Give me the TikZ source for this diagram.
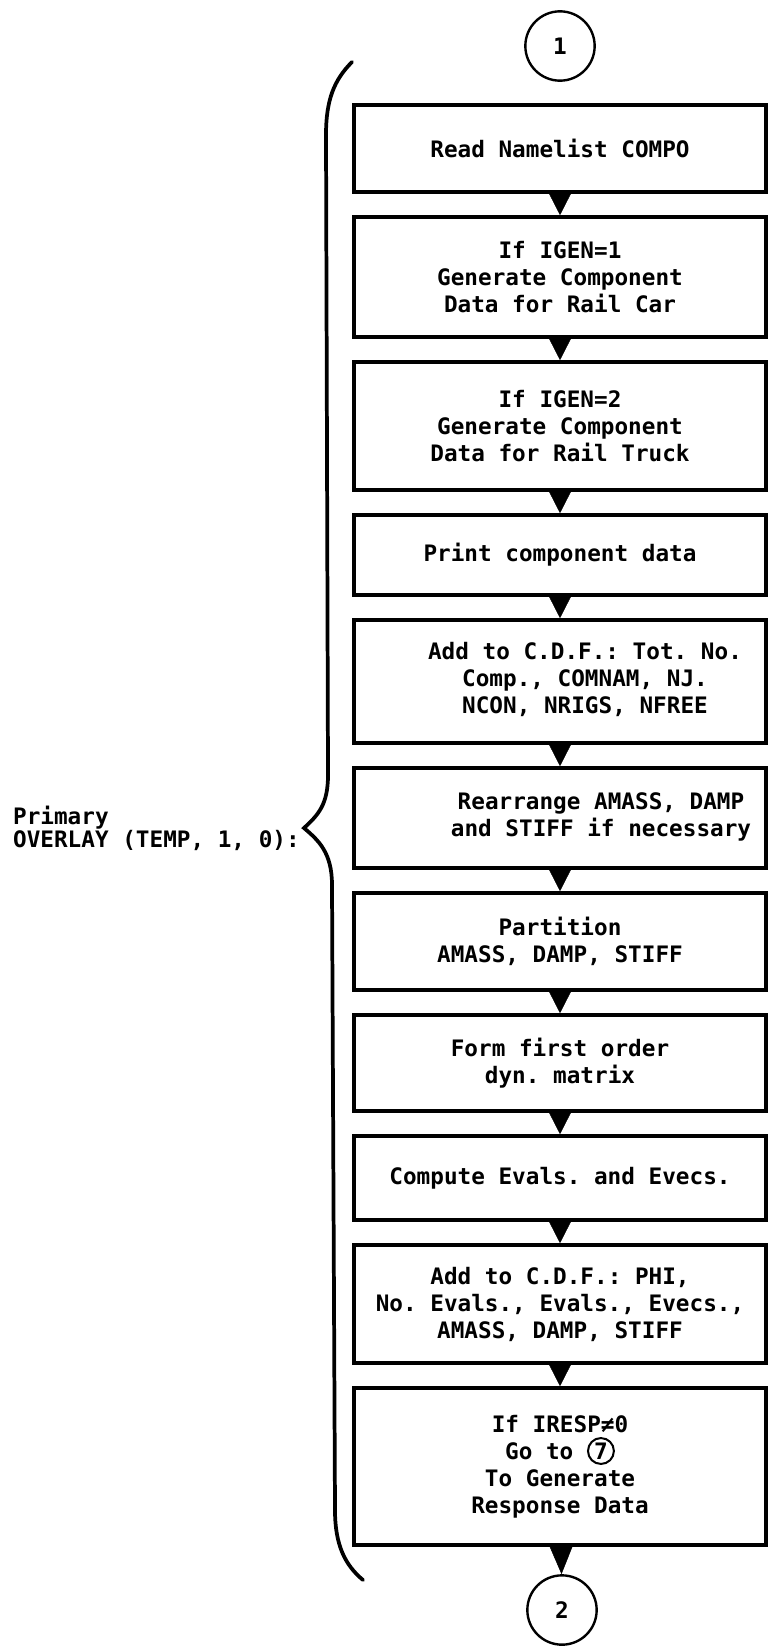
\documentclass[tikz,border=0pt]{standalone}
\usepackage{fontspec}
\setmonofont{DejaVu Sans Mono}
\usetikzlibrary{positioning, arrows.meta}
\newcommand{\boxfont}{\ttfamily\bfseries\fontsize{17}{20.25}\selectfont}
\newcommand{\gotomark}[1]{\tikz[baseline=(g#1.base), x=1cm, y=1cm]\node[circle, draw=black, line width=1.5pt, minimum size=0pt, inner sep=1.2pt] (g#1) {#1};}
\tikzset{
	box/.style={rectangle, draw=black, line width=2.7pt, minimum width=309pt, inner sep=0pt, align=center, font=\boxfont},
	conn/.style={circle, draw=black, line width=1.8pt, minimum size=52pt, inner sep=0pt, font=\boxfont},
	flow/.style={line width=0.4pt, -{Triangle[width=19pt, length=#1]}},
	flow/.default=18.75pt
}

\begin{document}
\begin{tikzpicture}[x=0.75pt, y=-0.75pt]
	\useasboundingbox (0,0) rectangle (775,1646);
	% off-page connectors
	\node (c01) at (560,46)[conn]{1};
	\node (c02) at (562,1610)[conn]{2};
	% process boxes
	\node (b01) at (560,148.5)[box, minimum height=65.25pt]{Read Namelist COMPO};
	\node (b02) at (560,277)[box, minimum height=90pt]{If IGEN=1\\Generate Component\\Data for Rail Car};
	\node (b03) at (560,426)[box, minimum height=96pt]{If IGEN=2\\Generate Component\\Data for Rail Truck};
	\node (b04) at (560,555)[box, minimum height=60pt]{Print component data};
	\node (b05) at (560,681.5)[box, minimum height=92.25pt]{\hspace*{37.5pt}\begin{tabular}{@{}c@{}}Add to C.D.F.: Tot. No.\\Comp., COMNAM, NJ.\\NCON, NRIGS, NFREE\end{tabular}};
	\node (b06) at (560,818)[box, minimum height=75pt]{\hspace*{61.5pt}\begin{tabular}{@{}c@{}}Rearrange AMASS, DAMP\\and STIFF if necessary\end{tabular}};
	\node (b07) at (560,941.5)[box, minimum height=72.75pt]{Partition\\AMASS, DAMP, STIFF};
	\node (b08) at (560,1063)[box, minimum height=72pt]{Form first order\\dyn. matrix};
	\node (b09) at (560,1178)[box, minimum height=63pt]{Compute Evals. and Evecs.};
	\node (b10) at (560,1304)[box, minimum height=88.5pt]{Add to C.D.F.: PHI,\\No. Evals., Evals., Evecs.,\\AMASS, DAMP, STIFF};
	\node (b11) at (560,1466.5)[box, minimum height=117.75pt]{If IRESP≠0\\Go to \gotomark{7}\\To Generate\\Response Data};
	% flow
	\draw[flow] (b01) -- (b02);
	\draw[flow] (b02) -- (b03);
	\draw[flow] (b03) -- (b04);
	\draw[flow] (b04) -- (b05);
	\draw[flow] (b05) -- (b06);
	\draw[flow] (b06) -- (b07);
	\draw[flow] (b07) -- (b08);
	\draw[flow] (b08) -- (b09);
	\draw[flow] (b09) -- (b10);
	\draw[flow] (b10) -- (b11);
	\draw[flow=23pt] (b11) -- (c02);
	% overlay brace
	\coordinate (tip) at (304,828);
	\draw[line width=2.8pt, line cap=round] (352,62) .. controls (334,80) and (326,100) .. (326,135) -- (328,775) .. controls (328,805) and (318,815) .. (tip) .. controls (318,840) and (332,852) .. (332,885) -- (335,1510) .. controls (335,1545) and (345,1565) .. (363,1580);
	\node[left=3pt of tip, inner sep=0pt, align=left, font=\ttfamily\bfseries\fontsize{17}{15}\selectfont] (lbl) {Primary\\OVERLAY (TEMP, 1, 0):};
\end{tikzpicture}
\end{document}
